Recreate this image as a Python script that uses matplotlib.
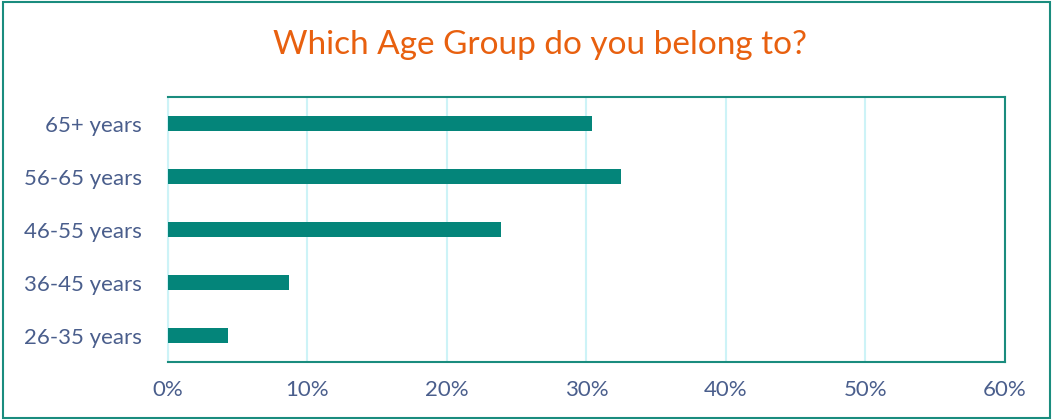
import matplotlib.pyplot as plt
from matplotlib.patches import Rectangle

# dades del grafic
age_groups = ["26-35 years", "36-45 years", "46-55 years", "56-65 years", "65+ years"]
shares = [4.3, 8.7, 23.9, 32.5, 30.4]
x_ticks = [0, 10, 20, 30, 40, 50, 60]
x_tick_labels = ["0%", "10%", "20%", "30%", "40%", "50%", "60%"]

title = "Which Age Group do you belong to?"

bar_color = "#04857A"
frame_color = "#1A8C7E"
grid_color = "#CDF3F7"
text_color = "#4A5E8C"
title_color = "#E8600F"

plt.rcParams['font.family'] = ['Lato', 'DejaVu Sans']

fig = plt.figure(figsize=(10.53, 4.2), dpi=100)
ax = fig.add_axes([0.1595, 0.138, 0.7949, 0.631])

y_pos = range(len(age_groups))
ax.barh(y_pos, shares, height=0.3, color=bar_color, zorder=3)

ax.set_xlim(0, 60)
ax.set_ylim(-0.5, len(age_groups) - 0.5)
ax.set_xticks(x_ticks)
ax.set_xticklabels(x_tick_labels)
ax.set_yticks(list(y_pos))
ax.set_yticklabels(age_groups)
ax.tick_params(axis='both', length=0, labelsize=16, colors=text_color)
ax.tick_params(axis='x', pad=13)
ax.tick_params(axis='y', pad=19)

ax.xaxis.grid(True, color=grid_color, linewidth=1.5, zorder=0)
for s in ax.spines.values():
    s.set_color(frame_color)
    s.set_linewidth(1.5)
ax.spines['left'].set_color(grid_color)

fig.text(0.513, 0.893, title, ha='center', va='center', fontsize=24, color=title_color)

# marc exterior
fig.patches.append(Rectangle((0.003, 0.005), 0.994, 0.99, transform=fig.transFigure,
                             fill=False, edgecolor=frame_color, linewidth=1.5))

fig.savefig("out.png", dpi=100)
